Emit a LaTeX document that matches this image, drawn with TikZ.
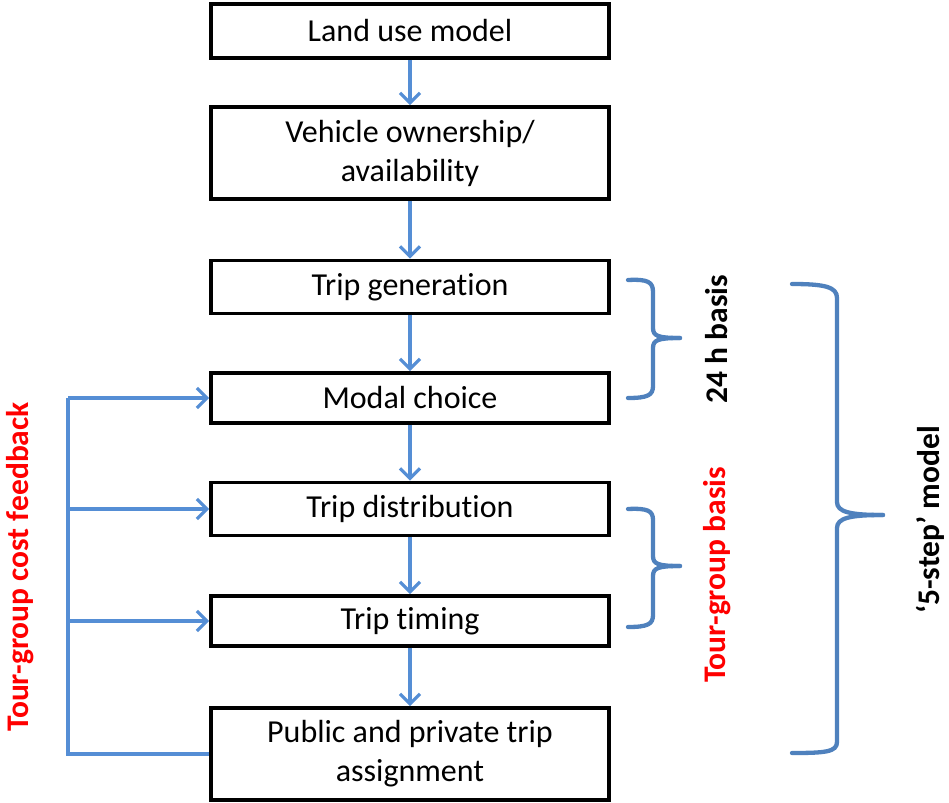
\documentclass[tikz,border=0pt]{standalone}
\usepackage{fontspec}
\setmainfont{Carlito}[Ligatures=NoCommon]
\usetikzlibrary{arrows.meta}
\definecolor{arrowblue}{HTML}{558ED5}
\definecolor{braceblue}{HTML}{4F81BD}
\definecolor{fbred}{HTML}{FF0000}
\begin{document}
\begin{tikzpicture}[x=1pt,y=-1pt,
  stepbox/.style={draw=black,line width=3.6pt,minimum width=398pt,inner sep=2pt,
    font=\fontsize{32}{39}\selectfont,align=center,text=black},
  flow/.style={draw=arrowblue,line width=3.3pt,-{Straight Barb[length=10pt,width=20pt,line width=3.3pt]}},
  fbline/.style={draw=arrowblue,line width=3.3pt},
  brace/.style={draw=braceblue,line width=4.3pt,line cap=round,line join=round},
  sidelabel/.style={font=\fontsize{31.5}{39}\selectfont\bfseries,rotate=90}
]
\useasboundingbox (0,0) rectangle (949,802);
\node[stepbox,minimum height=54pt] (n1) at (410,31) {Land use model};
\node[stepbox,minimum height=92pt] (n2) at (410,153) {Vehicle ownership/\\availability};
\node[stepbox,minimum height=53pt] (n3) at (410,287) {Trip generation};
\node[stepbox,minimum height=50pt] (n4) at (410,398) {Modal choice};
\node[stepbox,minimum height=53pt] (n5) at (410,509) {Trip distribution};
\node[stepbox,minimum height=50pt] (n6) at (410,621) {Trip timing};
\node[stepbox,minimum height=92pt] (n7) at (410,754) {Public and private trip\\assignment};

\draw[flow] (n1.south) -- (n2.north);
\draw[flow] (n2.south) -- (n3.north);
\draw[flow] (n3.south) -- (n4.north);
\draw[flow] (n4.south) -- (n5.north);
\draw[flow] (n5.south) -- (n6.north);
\draw[flow] (n6.south) -- (n7.north);

\coordinate (fbtop) at (68,398);
\coordinate (fbmid1) at (68,509);
\coordinate (fbmid2) at (68,621);
\coordinate (fbbot) at (68,754);
\draw[fbline] (n7.west) -- (fbbot) -- (fbtop);
\draw[flow] (fbtop) -- (n4.west);
\draw[flow] (fbmid1) -- (n5.west);
\draw[flow] (fbmid2) -- (n6.west);

% small brace 1
\draw[brace] (628,280) .. controls (648,279) and (653,282) .. (653,292) -- (653,328)
  .. controls (653,336) and (658,338) .. (680,338);
\draw[brace] (680,338) .. controls (658,338) and (653,340) .. (653,348) -- (653,386)
  .. controls (653,395) and (648,398) .. (628,398);
% small brace 2
\draw[brace] (628,509) .. controls (648,508) and (653,511) .. (653,520) -- (653,556)
  .. controls (653,564) and (658,566) .. (680,566);
\draw[brace] (680,566) .. controls (658,566) and (653,568) .. (653,576) -- (653,615)
  .. controls (653,624) and (648,627) .. (628,627);
% big brace
\draw[brace] (792,284) .. controls (825,284) and (837,287) .. (837,298) -- (837,502)
  .. controls (837,512) and (850,515) .. (883,515);
\draw[brace] (883,515) .. controls (850,515) and (837,518) .. (837,528) -- (837,742)
  .. controls (837,752) and (825,753) .. (792,753);

\node[sidelabel,text=black] (l24) at (717,339) {24 h basis};
\node[sidelabel,text=fbred] (ltg) at (717,575) {Tour-group basis};
\node[sidelabel,text=black] (l5s) at (930,520) {‘5-step’ model};
\node[sidelabel,text=fbred] (lfb) at (20,567) {Tour-group cost feedback};
\end{tikzpicture}
\end{document}
